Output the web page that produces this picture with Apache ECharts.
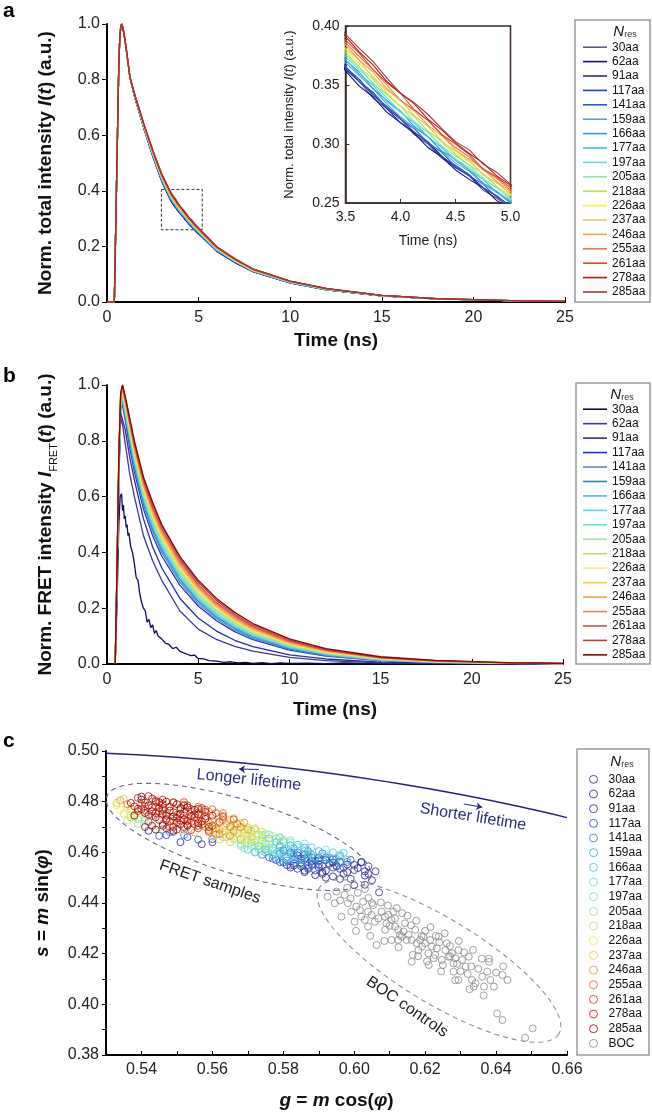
<!DOCTYPE html>
<html>
<head>
<meta charset="utf-8">
<script src="https://cdn.jsdelivr.net/npm/echarts@6.0.0/dist/echarts.min.js"></script>
<style>
  html, body { margin: 0; padding: 0; background: #fff; }
  #chart { width: 652px; height: 1112px; }
</style>
</head>
<body>
<div id="chart"></div>
<script>
var FONT = '"Liberation Sans", Arial, sans-serif';
var NAMES = ['30aa', '62aa', '91aa', '117aa', '141aa', '159aa', '166aa', '177aa', '197aa', '205aa', '218aa', '226aa', '237aa', '246aa', '255aa', '261aa', '278aa', '285aa'];
var COLORS_A = ['#5e5a80', '#10107a', '#2626b8', '#2244cc', '#1f5fd6', '#5f9fd0', '#22a5dd', '#2cc6e6', '#5ee0e0', '#8ee6a8', '#b2e25a', '#f2ee3a', '#e2cc5a', '#f2a23e', '#f27a3c', '#e2452c', '#c4141a', '#9c3c3c'];
var COLORS_B = ['#0c0c5c', '#3a3a96', '#2a2aa6', '#1e36c8', '#5f84d0', '#2a86c0', '#48bede', '#52dce6', '#6ee6cc', '#a6e2a0', '#b6e064', '#f6ec70', '#f4cc3a', '#f4a448', '#ee8054', '#e04a44', '#c23a3a', '#7e0a0a'];
var COLORS_C = ['#2a2a70', '#22228e', '#2222b0', '#2244c4', '#2f72d2', '#2aa2d6', '#3cc2e4', '#52e0e2', '#6ee2c2', '#92e092', '#c2e260', '#eef03c', '#eec030', '#e29020', '#e26020', '#d23020', '#c01010', '#8c0000'];
var BOC_COLOR = '#8a8a8a';

// --- panel a: total intensity decays ---
var riseT = [0, 0.4, 0.5, 0.6, 0.65, 0.7, 0.75, 0.8, 0.85, 0.9, 1.0, 1.1, 1.25];
var riseV = [0, 0, 0.35, 0.7, 0.87, 0.95, 0.99, 1.0, 0.99, 0.975, 0.935, 0.885, 0.81];
var decT = [1.5, 2, 2.5, 3, 3.5, 3.625, 3.75, 3.875, 4, 4.125, 4.25, 4.375, 4.5, 4.625, 4.75, 4.875, 5, 6, 7, 8, 10, 12, 15, 18, 22, 25];
var decA = [
  [0.741,0.628,0.525,0.433, 0.363,0.353,0.339,0.330,0.321,0.308,0.300,0.288,0.280,0.273,0.261,0.254,0.246, 0.182,0.142,0.108,0.069,0.044,0.022,0.011,0.005,0.002],
  [0.741,0.627,0.524,0.432, 0.362,0.349,0.340,0.327,0.318,0.309,0.297,0.289,0.278,0.270,0.263,0.252,0.245, 0.182,0.141,0.108,0.069,0.044,0.022,0.011,0.005,0.002],
  [0.741,0.629,0.526,0.434, 0.364,0.353,0.343,0.330,0.318,0.310,0.302,0.290,0.280,0.273,0.263,0.256,0.247, 0.183,0.142,0.109,0.069,0.044,0.022,0.011,0.005,0.002],
  [0.741,0.629,0.526,0.434, 0.365,0.355,0.341,0.332,0.322,0.310,0.301,0.289,0.282,0.274,0.263,0.256,0.247, 0.183,0.143,0.109,0.069,0.044,0.022,0.011,0.005,0.002],
  [0.742,0.629,0.527,0.435, 0.366,0.353,0.344,0.331,0.321,0.313,0.301,0.293,0.281,0.273,0.266,0.255,0.248, 0.184,0.143,0.109,0.070,0.044,0.022,0.011,0.005,0.002],
  [0.743,0.631,0.529,0.438, 0.369,0.358,0.347,0.334,0.323,0.314,0.306,0.294,0.284,0.277,0.266,0.259,0.250, 0.186,0.145,0.110,0.070,0.045,0.022,0.011,0.005,0.002],
  [0.743,0.632,0.531,0.440, 0.371,0.361,0.347,0.337,0.328,0.315,0.306,0.294,0.287,0.278,0.267,0.260,0.251, 0.187,0.145,0.111,0.071,0.045,0.023,0.011,0.005,0.002],
  [0.744,0.633,0.532,0.441, 0.372,0.359,0.350,0.336,0.327,0.318,0.306,0.297,0.286,0.278,0.270,0.259,0.252, 0.187,0.146,0.111,0.071,0.045,0.023,0.012,0.005,0.002],
  [0.744,0.633,0.533,0.442, 0.374,0.363,0.352,0.339,0.327,0.318,0.310,0.298,0.287,0.280,0.270,0.263,0.253, 0.188,0.147,0.112,0.071,0.045,0.023,0.012,0.005,0.002],
  [0.745,0.634,0.534,0.444, 0.376,0.365,0.351,0.342,0.332,0.319,0.310,0.298,0.290,0.282,0.271,0.263,0.254, 0.189,0.148,0.113,0.072,0.046,0.023,0.012,0.005,0.002],
  [0.745,0.636,0.536,0.446, 0.378,0.365,0.355,0.342,0.332,0.323,0.311,0.302,0.291,0.282,0.275,0.264,0.256, 0.191,0.148,0.113,0.072,0.046,0.023,0.012,0.005,0.002],
  [0.746,0.637,0.537,0.448, 0.380,0.368,0.358,0.344,0.332,0.324,0.315,0.303,0.292,0.285,0.274,0.267,0.257, 0.192,0.149,0.114,0.073,0.047,0.023,0.012,0.005,0.002],
  [0.746,0.637,0.538,0.449, 0.381,0.371,0.356,0.346,0.337,0.324,0.315,0.302,0.294,0.286,0.274,0.267,0.258, 0.192,0.150,0.114,0.073,0.047,0.023,0.012,0.005,0.002],
  [0.747,0.639,0.540,0.451, 0.384,0.371,0.361,0.347,0.337,0.328,0.316,0.307,0.295,0.287,0.279,0.268,0.260, 0.194,0.151,0.115,0.074,0.047,0.024,0.012,0.005,0.002],
  [0.748,0.640,0.541,0.453, 0.386,0.374,0.363,0.350,0.337,0.329,0.320,0.308,0.297,0.289,0.278,0.271,0.261, 0.195,0.152,0.116,0.074,0.048,0.024,0.012,0.005,0.002],
  [0.748,0.641,0.543,0.455, 0.388,0.377,0.363,0.352,0.343,0.329,0.320,0.308,0.300,0.291,0.279,0.272,0.263, 0.196,0.153,0.117,0.074,0.048,0.024,0.012,0.005,0.002],
  [0.749,0.642,0.545,0.457, 0.391,0.378,0.367,0.353,0.343,0.334,0.321,0.312,0.301,0.292,0.284,0.273,0.265, 0.198,0.154,0.118,0.075,0.048,0.024,0.012,0.005,0.002],
  [0.750,0.643,0.546,0.459, 0.393,0.381,0.370,0.356,0.343,0.335,0.325,0.313,0.302,0.295,0.283,0.276,0.266, 0.199,0.155,0.118,0.075,0.048,0.024,0.012,0.005,0.002]
];
var zoomBox = [[2.97, 0.405], [5.2, 0.26]];

// --- panel b: FRET intensity decays ---
var tB = [0.45, 0.55, 0.65, 0.75, 0.85, 1, 1.25, 1.5, 2, 2.5, 3, 4, 5, 6, 7, 8, 10, 12, 15, 18, 22, 25];
var fretB = [
  [0,0.3,0.66,0.88,0.86,0.79,0.68,0.6,0.46,0.37,0.3,0.19,0.125,0.088,0.063,0.046,0.024,0.012,0.004,0.002,0,0],
  [0,0.3,0.68,0.9,0.9,0.84,0.74,0.66,0.52,0.42,0.345,0.235,0.165,0.118,0.085,0.062,0.033,0.018,0.007,0.003,0.001,0],
  [0,0.31,0.69,0.915,0.93,0.875,0.775,0.69,0.555,0.46,0.387,0.282,0.208,0.155,0.116,0.087,0.05,0.028,0.012,0.005,0.002,0.001],
  [0,0.32,0.69,0.92,0.94,0.885,0.79,0.705,0.57,0.475,0.4,0.293,0.217,0.162,0.122,0.092,0.053,0.03,0.013,0.005,0.002,0.001],
  [0,0.32,0.7,0.925,0.945,0.893,0.8,0.715,0.58,0.485,0.41,0.302,0.225,0.168,0.128,0.097,0.056,0.032,0.014,0.006,0.002,0.001],
  [0,0.32,0.7,0.93,0.95,0.9,0.808,0.722,0.588,0.492,0.418,0.308,0.23,0.173,0.132,0.1,0.058,0.034,0.014,0.006,0.002,0.001],
  [0,0.33,0.71,0.935,0.955,0.905,0.815,0.73,0.595,0.5,0.425,0.315,0.236,0.178,0.136,0.104,0.061,0.035,0.015,0.007,0.002,0.001],
  [0,0.33,0.71,0.94,0.96,0.912,0.822,0.737,0.602,0.507,0.432,0.321,0.242,0.183,0.14,0.107,0.063,0.037,0.016,0.007,0.002,0.001],
  [0,0.33,0.72,0.945,0.965,0.92,0.83,0.745,0.61,0.515,0.44,0.328,0.248,0.189,0.145,0.111,0.066,0.039,0.017,0.008,0.003,0.001],
  [0,0.33,0.72,0.95,0.97,0.925,0.835,0.751,0.618,0.522,0.448,0.335,0.254,0.194,0.15,0.115,0.068,0.04,0.018,0.008,0.003,0.001],
  [0,0.34,0.73,0.95,0.975,0.93,0.842,0.758,0.626,0.53,0.455,0.342,0.26,0.199,0.154,0.118,0.071,0.042,0.019,0.009,0.003,0.001],
  [0,0.34,0.73,0.955,0.98,0.935,0.848,0.765,0.633,0.538,0.462,0.348,0.266,0.204,0.158,0.122,0.073,0.044,0.02,0.009,0.003,0.001],
  [0,0.34,0.74,0.96,0.985,0.94,0.855,0.772,0.64,0.545,0.47,0.355,0.272,0.209,0.162,0.126,0.076,0.046,0.021,0.01,0.004,0.001],
  [0,0.34,0.74,0.96,0.99,0.945,0.86,0.78,0.648,0.553,0.478,0.362,0.278,0.214,0.167,0.13,0.079,0.048,0.022,0.01,0.004,0.001],
  [0,0.35,0.75,0.97,0.995,0.95,0.865,0.785,0.655,0.56,0.485,0.37,0.285,0.22,0.172,0.134,0.082,0.05,0.023,0.011,0.004,0.002],
  [0,0.35,0.75,0.97,1.0,0.955,0.875,0.795,0.665,0.57,0.495,0.378,0.293,0.228,0.178,0.139,0.086,0.052,0.024,0.012,0.004,0.002],
  [0,0.35,0.75,0.97,1.0,0.96,0.88,0.8,0.67,0.58,0.5,0.385,0.3,0.235,0.185,0.145,0.09,0.055,0.026,0.013,0.005,0.002]
];
var fret30T = [0.45,0.55,0.65,0.72,0.8,0.85,0.9,0.95,1.0,1.05,1.1,1.15,1.2,1.3,1.4,1.5,1.6,1.7,1.8,1.9,2.0,2.1,2.2,2.3,2.4,2.5,2.6,2.7,2.8,2.9,3.0,3.2,3.4,3.6,3.8,4.0,4.2,4.4,4.6,4.8,5.0,5.3,5.6,6.0,6.4,6.8,7.2,7.6,8,8.5,9,9.5,10,11,12,13,14,15,16,17,18,20,22,25];
var fret30V = [0,0.22,0.5,0.6,0.61,0.55,0.57,0.52,0.53,0.49,0.5,0.46,0.47,0.42,0.4,0.36,0.31,0.3,0.25,0.22,0.2,0.19,0.15,0.16,0.13,0.14,0.11,0.12,0.1,0.095,0.09,0.075,0.07,0.055,0.06,0.045,0.04,0.035,0.03,0.032,0.02,0.018,0.012,0.01,0.006,0.008,0.004,0.006,0.002,0.005,0.001,0.004,0.002,0.003,0.001,0.004,0.002,0.001,0.003,0.001,0.002,0.001,0.002,0.001];

// --- panel c: phasor plot ---
var circleG = [0.53, 0.55, 0.57, 0.59, 0.61, 0.63, 0.65, 0.66];
var circleS = [0.4991, 0.4975, 0.4951, 0.4918, 0.4877, 0.4828, 0.4770, 0.4737];
var arrowLonger = [[0.5731, 0.4927], [0.5675, 0.4929]];
var arrowShorter = [[0.6309, 0.4791], [0.6361, 0.4778]];
var fretEllipse = [0.5674, 0.4661, 0.6046, 0.4503];
var bocEllipse = [0.6239, 0.4171, 0.6577, 0.3883];
var phasor = [
  [[0.557,0.4632],[0.583,0.4548],[0.586,0.4528],[0.588,0.4550],[0.591,0.4522],[0.594,0.4540],[0.597,0.4515],[0.600,0.4530],[0.603,0.4508],[0.606,0.4525],[0.607,0.4442],[0.599,0.4495],
   [0.586,0.4575],[0.590,0.4568],[0.594,0.4560],[0.598,0.4552],[0.592,0.4500],[0.596,0.4495],[0.605,0.4490],[0.603,0.4472]],
  [[0.551,0.4640],[0.580,0.4560],[0.582,0.4540],[0.585,0.4558],[0.587,0.4535],[0.590,0.4552],[0.592,0.4528],[0.595,0.4545],[0.598,0.4522],[0.601,0.4538],[0.604,0.4515],[0.602,0.4560],
   [0.584,0.4588],[0.588,0.4580],[0.592,0.4570],[0.596,0.4562],[0.589,0.4510],[0.594,0.4505],[0.604,0.4545],[0.600,0.4470]],
  [[0.542,0.4685],[0.560,0.4640],[0.578,0.4570],[0.581,0.4550],[0.583,0.4572],[0.585,0.4545],[0.588,0.4565],[0.590,0.4540],[0.593,0.4555],[0.596,0.4535],[0.600,0.4550],[0.603,0.4525],
   [0.582,0.4598],[0.586,0.4590],[0.590,0.4578],[0.594,0.4572],[0.586,0.4522],[0.591,0.4515],[0.602,0.4562],[0.547,0.4668]],
  [[0.545,0.4665],[0.556,0.4650],[0.576,0.4580],[0.579,0.4562],[0.581,0.4582],[0.583,0.4555],[0.585,0.4575],[0.587,0.4548],[0.589,0.4568],[0.591,0.4545],[0.594,0.4560],[0.597,0.4540],
   [0.580,0.4608],[0.584,0.4600],[0.588,0.4590],[0.592,0.4580],[0.584,0.4535],[0.589,0.4528],[0.599,0.4570],[0.553,0.4660],[0.560,0.4652]],
  [[0.552,0.4668],[0.574,0.4590],[0.577,0.4575],[0.579,0.4595],[0.581,0.4568],[0.583,0.4585],[0.585,0.4560],[0.587,0.4578],[0.589,0.4552],[0.592,0.4570],[0.595,0.4548],[0.598,0.4562],
   [0.579,0.4625],[0.583,0.4615],[0.587,0.4605],[0.591,0.4595],[0.582,0.4548],[0.587,0.4540],[0.596,0.4585],[0.548,0.4680]],
  [[0.549,0.4680],[0.572,0.4600],[0.575,0.4612],[0.577,0.4588],[0.579,0.4605],[0.581,0.4580],[0.583,0.4598],[0.585,0.4572],[0.587,0.4590],[0.590,0.4565],[0.593,0.4580],[0.596,0.4560],
   [0.578,0.4640],[0.582,0.4628],[0.586,0.4618],[0.590,0.4605],[0.580,0.4560],[0.585,0.4552],[0.595,0.4575]],
  [[0.546,0.4690],[0.570,0.4610],[0.573,0.4625],[0.575,0.4600],[0.577,0.4618],[0.579,0.4592],[0.581,0.4612],[0.583,0.4588],[0.586,0.4605],[0.589,0.4580],[0.594,0.4600],[0.598,0.4570],
   [0.576,0.4655],[0.580,0.4642],[0.584,0.4630],[0.588,0.4620],[0.579,0.4575],[0.583,0.4568],[0.593,0.4575],[0.597,0.4598]],
  [[0.541,0.4735],[0.568,0.4625],[0.571,0.4640],[0.573,0.4612],[0.575,0.4632],[0.577,0.4608],[0.579,0.4628],[0.581,0.4600],[0.584,0.4620],[0.587,0.4595],[0.592,0.4610],[0.572,0.4600],
   [0.574,0.4668],[0.578,0.4655],[0.582,0.4640],[0.586,0.4635],[0.577,0.4590],[0.581,0.4580],[0.591,0.4585],[0.596,0.4592]],
  [[0.539,0.4730],[0.566,0.4655],[0.568,0.4632],[0.570,0.4650],[0.572,0.4628],[0.574,0.4645],[0.576,0.4620],[0.578,0.4640],[0.581,0.4615],[0.584,0.4630],[0.569,0.4615],
   [0.571,0.4685],[0.575,0.4672],[0.579,0.4660],[0.582,0.4648],[0.574,0.4605],[0.578,0.4598],[0.543,0.4702],[0.588,0.4590]],
  [[0.537,0.4738],[0.541,0.4725],[0.563,0.4660],[0.566,0.4678],[0.568,0.4650],[0.570,0.4668],[0.572,0.4640],[0.574,0.4660],[0.576,0.4632],[0.580,0.4650],[0.565,0.4640],
   [0.568,0.4700],[0.572,0.4688],[0.576,0.4670],[0.579,0.4658],[0.571,0.4625],[0.575,0.4615],[0.539,0.4712]],
  [[0.535,0.4752],[0.538,0.4740],[0.560,0.4690],[0.563,0.4670],[0.565,0.4692],[0.567,0.4660],[0.569,0.4680],[0.571,0.4652],[0.573,0.4670],[0.575,0.4640],[0.562,0.4650],
   [0.566,0.4710],[0.570,0.4698],[0.574,0.4680],[0.577,0.4665],[0.569,0.4638],[0.573,0.4628],[0.536,0.4725]],
  [[0.534,0.4768],[0.536,0.4782],[0.539,0.4745],[0.558,0.4705],[0.561,0.4682],[0.563,0.4700],[0.565,0.4668],[0.567,0.4690],[0.569,0.4660],[0.571,0.4678],[0.573,0.4650],[0.560,0.4660],
   [0.563,0.4725],[0.567,0.4712],[0.570,0.4700],[0.574,0.4682],[0.566,0.4648],[0.570,0.4640],[0.537,0.4750],[0.533,0.4785]],
  [[0.533,0.4795],[0.537,0.4770],[0.549,0.4705],[0.556,0.4722],[0.559,0.4690],[0.561,0.4712],[0.563,0.4680],[0.565,0.4705],[0.567,0.4675],[0.569,0.4690],[0.571,0.4660],[0.555,0.4678],
   [0.562,0.4740],[0.565,0.4728],[0.568,0.4715],[0.572,0.4695],[0.564,0.4660],[0.568,0.4652],[0.535,0.4812],[0.566,0.4735]],
  [[0.534,0.4805],[0.540,0.4788],[0.546,0.4762],[0.550,0.4738],[0.553,0.4712],[0.556,0.4735],[0.558,0.4700],[0.560,0.4725],[0.562,0.4690],[0.564,0.4712],[0.566,0.4685],[0.568,0.4700],[0.552,0.4690],
   [0.559,0.4760],[0.563,0.4745],[0.566,0.4730],[0.569,0.4718],[0.561,0.4670],[0.565,0.4665],[0.570,0.4690],[0.557,0.4770],[0.548,0.4780]],
  [[0.536,0.4790],[0.541,0.4765],[0.544,0.4780],[0.547,0.4752],[0.549,0.4725],[0.551,0.4770],[0.553,0.4735],[0.555,0.4712],[0.557,0.4748],[0.559,0.4718],[0.561,0.4695],[0.563,0.4728],[0.565,0.4700],[0.548,0.4700],
   [0.556,0.4780],[0.560,0.4770],[0.563,0.4755],[0.566,0.4730],[0.559,0.4680],[0.562,0.4672],[0.545,0.4795],[0.552,0.4788],[0.554,0.4760],[0.567,0.4712]],
  [[0.539,0.4762],[0.541,0.4782],[0.543,0.4744],[0.545,0.4762],[0.547,0.4733],[0.548,0.4780],[0.550,0.4748],[0.551,0.4726],[0.552,0.4760],[0.554,0.4720],[0.555,0.4750],[0.557,0.4710],[0.558,0.4742],[0.560,0.4705],[0.562,0.4720],[0.546,0.4712],
   [0.544,0.4805],[0.549,0.4795],[0.553,0.4785],[0.557,0.4775],[0.561,0.4755],[0.563,0.4740],[0.556,0.4695],[0.559,0.4685],[0.549,0.4700],[0.542,0.4720],[0.552,0.4798],[0.558,0.4768]],
  [[0.538,0.4781],[0.540,0.4770],[0.541,0.4796],[0.542,0.4748],[0.543,0.4778],[0.544,0.4755],[0.545,0.4728],[0.546,0.4770],[0.547,0.4745],[0.548,0.4722],[0.549,0.4758],[0.550,0.4735],[0.551,0.4710],[0.552,0.4745],[0.553,0.4725],[0.555,0.4738],[0.556,0.4705],[0.557,0.4722],[0.559,0.4700],[0.544,0.4800],
   [0.539,0.4815],[0.542,0.4822],[0.546,0.4808],[0.549,0.4798],[0.552,0.4785],[0.554,0.4770],[0.558,0.4760],[0.543,0.4705],[0.547,0.4695],[0.550,0.4690],[0.554,0.4688],[0.556,0.4772],[0.560,0.4745],[0.545,0.4798]],
  [[0.537,0.4795],[0.539,0.4772],[0.540,0.4808],[0.541,0.4755],[0.542,0.4785],[0.543,0.4762],[0.544,0.4738],[0.545,0.4775],[0.546,0.4752],[0.547,0.4727],[0.548,0.4765],[0.549,0.4741],[0.550,0.4718],[0.551,0.4752],[0.552,0.4730],[0.553,0.4705],[0.554,0.4742],[0.556,0.4715],[0.558,0.4732],[0.546,0.4790],
   [0.540,0.4820],[0.543,0.4812],[0.547,0.4800],[0.550,0.4790],[0.553,0.4778],[0.555,0.4768],[0.541,0.4700],[0.544,0.4690],[0.549,0.4685],[0.552,0.4700],[0.538,0.4745],[0.556,0.4750],[0.546,0.4705],[0.551,0.4775]]
];
var boc = [
  [0.5945,0.4399],[0.5973,0.4432],[0.5982,0.4399],[0.5992,0.4366],[0.5964,0.4346],[0.6006,0.4386],[0.6016,0.4372],[0.6020,0.4346],[0.6025,0.4405],[0.6030,0.4333],
  [0.6039,0.4366],[0.6049,0.4353],[0.6053,0.4392],[0.6058,0.4326],[0.6068,0.4339],[0.6077,0.4366],[0.6087,0.4346],[0.6091,0.4320],[0.6096,0.4353],[0.6105,0.4333],
  [0.6110,0.4366],[0.6115,0.4307],[0.6124,0.4294],[0.6129,0.4274],[0.6134,0.4267],[0.6139,0.4287],[0.6143,0.4320],[0.6148,0.4254],[0.6153,0.4274],[0.6162,0.4254],
  [0.6172,0.4294],[0.6176,0.4241],[0.6186,0.4254],[0.6191,0.4228],[0.6195,0.4267],[0.6200,0.4241],[0.6209,0.4201],[0.6214,0.4254],[0.6219,0.4228],[0.6228,0.4195],
  [0.6233,0.4221],[0.6238,0.4267],[0.6247,0.4175],[0.6257,0.4214],[0.6261,0.4241],[0.6266,0.4188],[0.6276,0.4201],[0.6280,0.4162],[0.6285,0.4182],[0.6294,0.4214],
  [0.6304,0.4175],[0.6314,0.4149],[0.6323,0.4188],[0.6332,0.4096],[0.6342,0.4083],[0.6361,0.4109],[0.6366,0.4070],[0.6375,0.4129],[0.6380,0.4168],[0.6384,0.4096],
  [0.6394,0.4070],[0.6418,0.4116],[0.6432,0.4096],[0.6403,0.3964],[0.6418,0.3938],[0.6503,0.3905],[0.6482,0.3868],[0.6063,0.4234],[0.6162,0.4168],[0.6105,0.4254],
  [0.6181,0.4214],[0.6224,0.4182],[0.6280,0.4129],[0.6294,0.4096],[0.6337,0.4070],[0.6001,0.4326],[0.6039,0.4307],[0.6087,0.4294],[0.6115,0.4339],[0.6124,0.4254],
  [0.5925,0.4425],[0.5950,0.4445],[0.5960,0.4410],[0.5990,0.4418],[0.6010,0.4440],[0.6040,0.4420],[0.6075,0.4402],[0.6120,0.4380],[0.6160,0.4312],[0.6200,0.4290],
  [0.6240,0.4245],[0.6270,0.4230],[0.6310,0.4205],[0.6350,0.4140],[0.6330,0.4150],[0.6400,0.4125],[0.6290,0.4160],[0.6250,0.4155],[0.6210,0.4155],[0.6180,0.4190],
  [0.6005,0.4290],[0.6045,0.4270],[0.6085,0.4250],[0.6125,0.4225],[0.6165,0.4195],[0.6205,0.4170],[0.6245,0.4130],[0.6285,0.4095],[0.6325,0.4060],[0.6365,0.4035],
  [0.6050,0.4400],[0.6095,0.4390],[0.6135,0.4360],[0.6175,0.4330],[0.6215,0.4305],[0.6255,0.4280],[0.6295,0.4250],[0.6335,0.4215],[0.6380,0.4180],[0.6420,0.4150],
  [0.5980,0.4460],[0.6030,0.4455],[0.6150,0.4350],[0.6100,0.4310],[0.6190,0.4270],[0.6230,0.4270],[0.6270,0.4190],[0.6320,0.4120],[0.6360,0.4180],[0.6300,0.4130]
];

function stripName(n) { return n.slice(2); }
function fix(d) { return function (v) { return v.toFixed(d); }; }
function evenOnly(v) { return Math.round(v * 100) % 2 === 0 ? v.toFixed(2) : ''; }

var boldTitle = { fontSize: 19, fontWeight: 'bold', color: '#111', fontFamily: FONT };
var richBold = {
  b: { fontSize: 19, fontWeight: 'bold', color: '#111', fontFamily: FONT, lineHeight: 26 },
  bi: { fontSize: 19, fontWeight: 'bold', fontStyle: 'italic', color: '#111', fontFamily: FONT, lineHeight: 26 },
  sub: { fontSize: 11, color: '#111', fontFamily: FONT, lineHeight: 13, verticalAlign: 'bottom' }
};
var richReg = {
  r: { fontSize: 13, color: '#222', fontFamily: FONT },
  i: { fontSize: 13, fontStyle: 'italic', color: '#222', fontFamily: FONT }
};

function mainX(grid, gap) {
  return {
    gridIndex: grid, type: 'value', min: 0, max: 25, interval: 5,
    axisLine: { onZero: false, lineStyle: { color: '#000', width: 2 } },
    axisTick: { inside: true, length: 5, lineStyle: { color: '#000' } },
    axisLabel: { fontSize: 16, color: '#222', margin: 8, fontFamily: FONT },
    splitLine: { show: false },
    name: 'Time (ns)', nameLocation: 'middle', nameGap: gap, nameTextStyle: boldTitle
  };
}
function mainY(grid, name) {
  return {
    gridIndex: grid, type: 'value', min: 0, max: 1, interval: 0.2,
    axisLine: { onZero: false, lineStyle: { color: '#000', width: 2 } },
    axisTick: { length: 5, lineStyle: { color: '#000' } },
    axisLabel: { fontSize: 16, color: '#222', margin: 7, fontFamily: FONT, formatter: fix(1) },
    splitLine: { show: false },
    name: name, nameLocation: 'middle', nameRotate: 90, nameGap: 48,
    nameTextStyle: { rich: richBold }
  };
}

var series = [];
NAMES.forEach(function (n, k) {
  var data = riseT.map(function (t, i) { return [t, riseV[i]]; })
    .concat(decT.map(function (t, i) { return [t, decA[k][i]]; }));
  var s = {
    name: 'a:' + n, type: 'line', xAxisIndex: 0, yAxisIndex: 0, data: data, symbol: 'none',
    lineStyle: { color: COLORS_A[k], width: 1.3 }, itemStyle: { color: COLORS_A[k] }
  };
  if (k === NAMES.length - 1) {
    s.markArea = {
      silent: true,
      itemStyle: { color: 'rgba(0,0,0,0)', borderColor: '#333', borderWidth: 1, borderType: [3, 2] },
      data: [[{ coord: zoomBox[0] }, { coord: zoomBox[1] }]]
    };
  }
  series.push(s);
  series.push({
    name: 'i:' + n, type: 'line', xAxisIndex: 1, yAxisIndex: 1, data: data, symbol: 'none',
    lineStyle: { color: COLORS_A[k], width: 1.1 }, itemStyle: { color: COLORS_A[k] }
  });
});

NAMES.forEach(function (n, k) {
  var data = k === 0
    ? fret30T.map(function (t, i) { return [t, fret30V[i]]; })
    : tB.map(function (t, i) { return [t, fretB[k - 1][i]]; });
  series.push({
    name: 'b:' + n, type: 'line', xAxisIndex: 2, yAxisIndex: 2, data: data, symbol: 'none',
    lineStyle: { color: COLORS_B[k], width: 1.3 }, itemStyle: { color: COLORS_B[k] }
  });
});

series.push({
  name: 'circle', type: 'line', xAxisIndex: 3, yAxisIndex: 3, symbol: 'none', smooth: true,
  data: circleG.map(function (g, i) { return [g, circleS[i]]; }),
  lineStyle: { color: '#22267a', width: 1.5 },
  markLine: {
    silent: true, symbol: ['none', 'arrow'], symbolSize: 6, label: { show: false },
    lineStyle: { color: '#2b2d7a', width: 1, type: 'solid' },
    data: [
      [{ coord: arrowLonger[0] }, { coord: arrowLonger[1] }],
      [{ coord: arrowShorter[0] }, { coord: arrowShorter[1] }]
    ]
  }
});
NAMES.forEach(function (n, k) {
  series.push({
    name: 'c:' + n, type: 'scatter', xAxisIndex: 3, yAxisIndex: 3, data: phasor[k],
    symbol: 'circle', symbolSize: 7,
    itemStyle: { color: 'rgba(255,255,255,0)', borderColor: COLORS_C[k], borderWidth: 1 }
  });
});
series.push({
  name: 'c:BOC', type: 'scatter', xAxisIndex: 3, yAxisIndex: 3, data: boc,
  symbol: 'circle', symbolSize: 7,
  itemStyle: { color: 'rgba(255,255,255,0)', borderColor: BOC_COLOR, borderWidth: 1 }
});

function ellipseItem(ratio, color) {
  return function (params, api) {
    var c = api.coord([api.value(0), api.value(1)]);
    var e = api.coord([api.value(2), api.value(3)]);
    var dx = e[0] - c[0], dy = e[1] - c[1];
    var a = Math.sqrt(dx * dx + dy * dy), ang = Math.atan2(dy, dx), b = a * ratio;
    var pts = [];
    for (var i = 0; i < 90; i++) {
      var th = i / 90 * 2 * Math.PI, x = a * Math.cos(th), y = b * Math.sin(th);
      pts.push([c[0] + x * Math.cos(ang) - y * Math.sin(ang), c[1] + x * Math.sin(ang) + y * Math.cos(ang)]);
    }
    return { type: 'polygon', shape: { points: pts }, style: { fill: 'none', stroke: color, lineWidth: 1.1, lineDash: [5, 4] } };
  };
}
series.push({
  type: 'custom', xAxisIndex: 3, yAxisIndex: 3, silent: true, clip: false, z: 5,
  renderItem: ellipseItem(0.27, '#6b6490'), data: [fretEllipse], encode: { x: [0, 2], y: [1, 3] }
});
series.push({
  type: 'custom', xAxisIndex: 3, yAxisIndex: 3, silent: true, clip: false, z: 5,
  renderItem: ellipseItem(0.30, '#8e8e8e'), data: [bocEllipse], encode: { x: [0, 2], y: [1, 3] }
});

function legendCfg(prefix, names, left, top, lh, extra) {
  var cfg = {
    data: names.map(function (n) { return prefix + n; }),
    orient: 'vertical', left: left, top: top, padding: 0, itemGap: 0,
    icon: 'rect', itemWidth: 24, itemHeight: 1.6, selectedMode: false, formatter: stripName,
    textStyle: { fontSize: 12, color: '#111', fontFamily: FONT, lineHeight: lh }
  };
  for (var key in extra) cfg[key] = extra[key];
  return cfg;
}

var nres = {
  n: { fontSize: 15, fontStyle: 'italic', fill: '#111', fontFamily: FONT },
  s: { fontSize: 9, fill: '#333', fontFamily: FONT, verticalAlign: 'bottom', lineHeight: 14 }
};
function annot(text, x, y, rot, color) {
  return {
    type: 'text', x: x, y: y, rotation: rot, silent: true,
    style: { text: text, fontSize: 16, fontFamily: FONT, fill: color, align: 'center', verticalAlign: 'middle' }
  };
}

var chart = echarts.init(document.getElementById('chart'), null, { renderer: 'canvas' });
chart.setOption({
  animation: false,
  backgroundColor: '#fff',
  grid: [
    { left: 107, top: 24, width: 458, height: 278 },
    { left: 345.5, top: 26, width: 165, height: 177, show: true, borderColor: '#3b2a20', borderWidth: 1.5, z: 3 },
    { left: 107, top: 385, width: 456, height: 279 },
    { left: 106, top: 751, width: 461, height: 304 }
  ],
  xAxis: [
    mainX(0, 29),
    {
      gridIndex: 1, type: 'value', min: 3.5, max: 5, interval: 0.5,
      axisLine: { onZero: false, lineStyle: { color: '#3b2a20', width: 1.5 } },
      axisTick: { inside: true, length: 4, lineStyle: { color: '#3b2a20' } },
      axisLabel: { fontSize: 14, color: '#222', margin: 7, fontFamily: FONT, formatter: fix(1) },
      splitLine: { show: false },
      name: 'Time (ns)', nameLocation: 'middle', nameGap: 31,
      nameTextStyle: { fontSize: 14, color: '#222', fontFamily: FONT }
    },
    mainX(2, 36),
    {
      gridIndex: 3, type: 'value', min: 0.53, max: 0.66, interval: 0.01,
      axisLine: { onZero: false, lineStyle: { color: '#000', width: 2 } },
      axisTick: { inside: true, length: 4, lineStyle: { color: '#000' } },
      axisLabel: { fontSize: 16, color: '#222', margin: 7, fontFamily: FONT, formatter: evenOnly, showMinLabel: true, showMaxLabel: true },
      splitLine: { show: false },
      name: '{bi|g}{b| = }{bi|m}{b| cos(}{bi|φ}{b|)}', nameLocation: 'middle', nameGap: 33,
      nameTextStyle: { rich: richBold }
    }
  ],
  yAxis: [
    mainY(0, '{b|Norm. total intensity }{bi|I}{b|(}{bi|t}{b|) (a.u.)}'),
    {
      gridIndex: 1, type: 'value', min: 0.25, max: 0.40, interval: 0.05,
      axisLine: { onZero: false, lineStyle: { color: '#3b2a20', width: 1.5 } },
      axisTick: { inside: true, length: 4, lineStyle: { color: '#3b2a20' } },
      axisLabel: { fontSize: 14, color: '#222', margin: 6, fontFamily: FONT, formatter: fix(2) },
      splitLine: { show: false },
      name: '{r|Norm. total intensity }{i|I}{r|(}{i|t}{r|) (a.u.)}', nameLocation: 'middle', nameRotate: 90, nameGap: 50,
      nameTextStyle: { rich: richReg }
    },
    mainY(2, '{b|Norm. FRET intensity }{bi|I}{sub|FRET}{b|(}{bi|t}{b|) (a.u.)}'),
    {
      gridIndex: 3, type: 'value', min: 0.38, max: 0.50, interval: 0.01,
      axisLine: { onZero: false, lineStyle: { color: '#000', width: 2 } },
      axisTick: { length: 4, lineStyle: { color: '#000' } },
      axisLabel: { fontSize: 16, color: '#222', margin: 7, fontFamily: FONT, formatter: evenOnly },
      splitLine: { show: false },
      name: '{bi|s}{b| = }{bi|m}{b| sin(}{bi|φ}{b|)}', nameLocation: 'middle', nameRotate: 90, nameGap: 50,
      nameTextStyle: { rich: richBold }
    }
  ],
  legend: [
    legendCfg('a:', NAMES, 583, 40, 14.4, {}),
    legendCfg('b:', NAMES, 583, 402, 14.45, {}),
    legendCfg('c:', NAMES.concat(['BOC']), 589, 772, 14.67, {
      icon: 'circle', itemWidth: 8, itemHeight: 8,
      itemStyle: { borderWidth: 1 },
      textStyle: { fontSize: 12, color: '#111', fontFamily: FONT, lineHeight: 14.67, padding: [0, 0, 0, 6] }
    })
  ],
  graphic: [
    { type: 'rect', silent: true, shape: { x: 575, y: 20, width: 75, height: 282 }, style: { fill: 'none', stroke: '#9a9a9a', lineWidth: 1.5 } },
    { type: 'rect', silent: true, shape: { x: 576, y: 383, width: 74, height: 281 }, style: { fill: 'none', stroke: '#9a9a9a', lineWidth: 1.5 } },
    { type: 'rect', silent: true, shape: { x: 577, y: 749, width: 72, height: 306 }, style: { fill: 'none', stroke: '#9a9a9a', lineWidth: 1.5 } },
    { type: 'text', x: 625, y: 32, silent: true, style: { text: '{n|N}{s|res}', rich: nres, align: 'center', verticalAlign: 'middle' } },
    { type: 'text', x: 622, y: 395, silent: true, style: { text: '{n|N}{s|res}', rich: nres, align: 'center', verticalAlign: 'middle' } },
    { type: 'text', x: 622, y: 762, silent: true, style: { text: '{n|N}{s|res}', rich: nres, align: 'center', verticalAlign: 'middle' } },
    { type: 'text', x: 3, y: 1, silent: true, style: { text: 'a', fontSize: 21, fontWeight: 'bold', fontFamily: FONT, fill: '#000' } },
    { type: 'text', x: 3, y: 366, silent: true, style: { text: 'b', fontSize: 21, fontWeight: 'bold', fontFamily: FONT, fill: '#000' } },
    { type: 'text', x: 3, y: 731, silent: true, style: { text: 'c', fontSize: 21, fontWeight: 'bold', fontFamily: FONT, fill: '#000' } },
    annot('Longer lifetime', 249, 780, -0.105, '#2b2d7a'),
    annot('Shorter lifetime', 473, 817, -0.16, '#2b2d7a'),
    annot('FRET samples', 210, 882, -0.33, '#222'),
    annot('BOC controls', 407, 1007, -0.6, '#222')
  ],
  series: series
});
</script>
</body>
</html>
